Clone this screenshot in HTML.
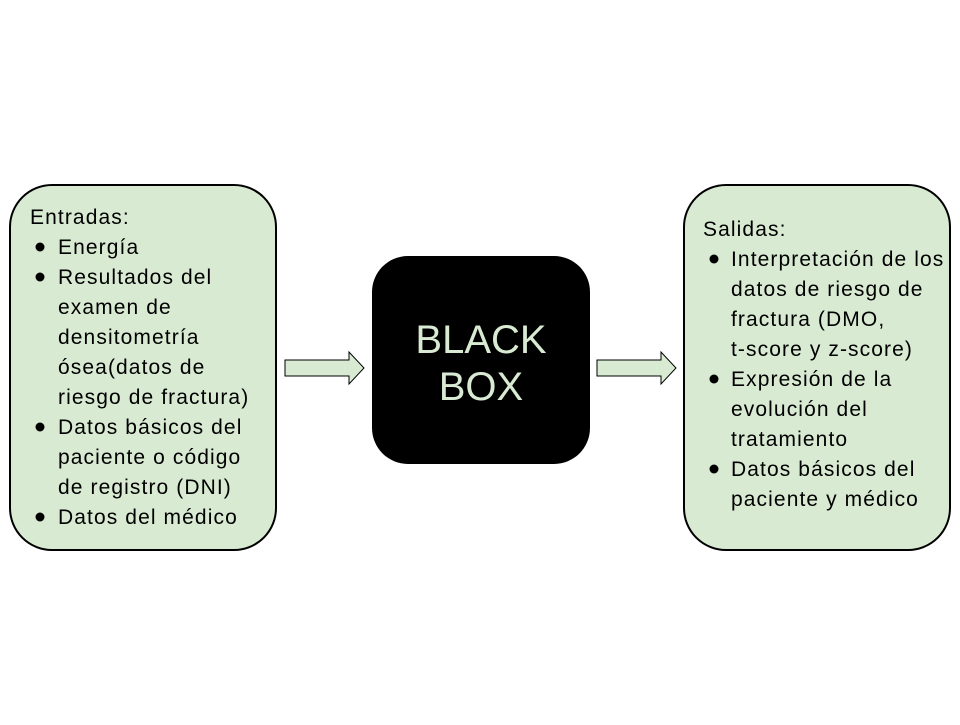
<!DOCTYPE html>
<html><head><meta charset="utf-8"><style>body{margin:0;background:#fff}</style></head><body>
<svg width="960" height="720" xmlns="http://www.w3.org/2000/svg" font-family="Liberation Sans, Arial, sans-serif">
<rect x="10" y="185" width="266" height="365" rx="42" fill="#d9ead3" stroke="#000" stroke-width="2"/>
<rect x="684" y="185" width="266" height="365" rx="42" fill="#d9ead3" stroke="#000" stroke-width="2"/>
<rect x="372" y="256" width="218" height="208" rx="36" fill="#000"/>
<text x="481" y="353" font-size="40" fill="#d9ead3" text-anchor="middle">BLACK</text>
<text x="481" y="400" font-size="40" fill="#d9ead3" text-anchor="middle">BOX</text>
<polygon points="285,360 349,360 349,352 364,368 349,384 349,376 285,376" fill="#d9ead3" stroke="#000" stroke-width="1"/>
<polygon points="597,360 661,360 661,352 676,368 661,384 661,376 597,376" fill="#d9ead3" stroke="#000" stroke-width="1"/>
<g fill="#000">
<circle cx="40" cy="247" r="4.5"/><circle cx="40" cy="277" r="4.5"/><circle cx="40" cy="427" r="4.5"/><circle cx="40" cy="517" r="4.5"/>
<circle cx="714" cy="259" r="4.5"/><circle cx="714" cy="379" r="4.5"/><circle cx="714" cy="469" r="4.5"/>
</g>
<g font-size="21" fill="#000" letter-spacing="1.1">
<text x="30" y="224">Entradas:</text>
<text x="58" y="254">Energía</text>
<text x="58" y="284">Resultados del</text>
<text x="58" y="314">examen de</text>
<text x="58" y="344">densitometría</text>
<text x="58" y="374">ósea(datos de</text>
<text x="58" y="404">riesgo de fractura)</text>
<text x="58" y="434">Datos básicos del</text>
<text x="58" y="464">paciente o código</text>
<text x="58" y="494">de registro (DNI)</text>
<text x="58" y="524">Datos del médico</text>

<text x="703" y="236">Salidas:</text>
<text x="731" y="266">Interpretación de los</text>
<text x="731" y="296">datos de riesgo de</text>
<text x="731" y="326">fractura (DMO,</text>
<text x="731" y="356">t-score y z-score)</text>
<text x="731" y="386">Expresión de la</text>
<text x="731" y="416">evolución del</text>
<text x="731" y="446">tratamiento</text>
<text x="731" y="476">Datos básicos del</text>
<text x="731" y="506">paciente y médico</text>
</g>
</svg>
</body></html>
